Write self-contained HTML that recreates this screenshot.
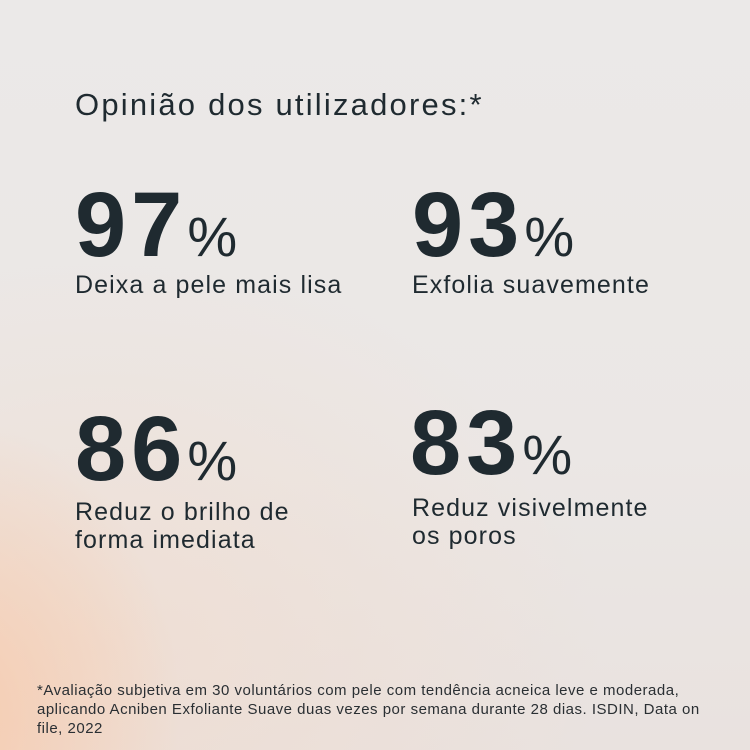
<!DOCTYPE html>
<html><head><meta charset="utf-8"><style>
html,body{margin:0;padding:0}
body{width:750px;height:750px;position:relative;overflow:hidden;font-family:"Liberation Sans",sans-serif;color:#1f2a30;
background:
radial-gradient(ellipse 220px 300px at -40px 720px, rgba(250,196,160,0.7), rgba(250,200,170,0) 100%),
radial-gradient(ellipse 500px 400px at 100px 650px, rgba(245,215,195,0.45), rgba(245,215,195,0) 100%),
linear-gradient(180deg,#ebe9e8 0%,#ebe7e5 60%,#e9e2df 100%);}
.a{position:absolute;white-space:nowrap}
.t{font-size:31px;line-height:31px;left:75px;top:89px;letter-spacing:2.2px}
.n{font-size:92px;line-height:92px;font-weight:bold;letter-spacing:5px}
.n span{font-size:56px;font-weight:normal;letter-spacing:0;margin-left:0px}
.l{font-size:25px;line-height:28px;letter-spacing:1.1px}
.f{font-size:15px;line-height:19px;left:37px;top:681px;color:#2a2f33;letter-spacing:0.5px}
</style></head><body>
<div class="a t">Opinião dos utilizadores:*</div>
<div class="a n" style="left:75px;top:179px">97<span>%</span></div>
<div class="a l" style="left:75px;top:271px">Deixa a pele mais lisa</div>
<div class="a n" style="left:412px;top:179px">93<span>%</span></div>
<div class="a l" style="left:412px;top:271px">Exfolia suavemente</div>
<div class="a n" style="left:75px;top:403px">86<span>%</span></div>
<div class="a l" style="left:75px;top:498px">Reduz o brilho de<br>forma imediata</div>
<div class="a n" style="left:410px;top:397px">83<span>%</span></div>
<div class="a l" style="left:412px;top:494px">Reduz visivelmente<br>os poros</div>
<div class="a f">*Avaliação subjetiva em 30 voluntários com pele com tendência acneica leve e moderada,<br>aplicando Acniben Exfoliante Suave duas vezes por semana durante 28 dias. ISDIN, Data on<br>file, 2022</div>
</body></html>
